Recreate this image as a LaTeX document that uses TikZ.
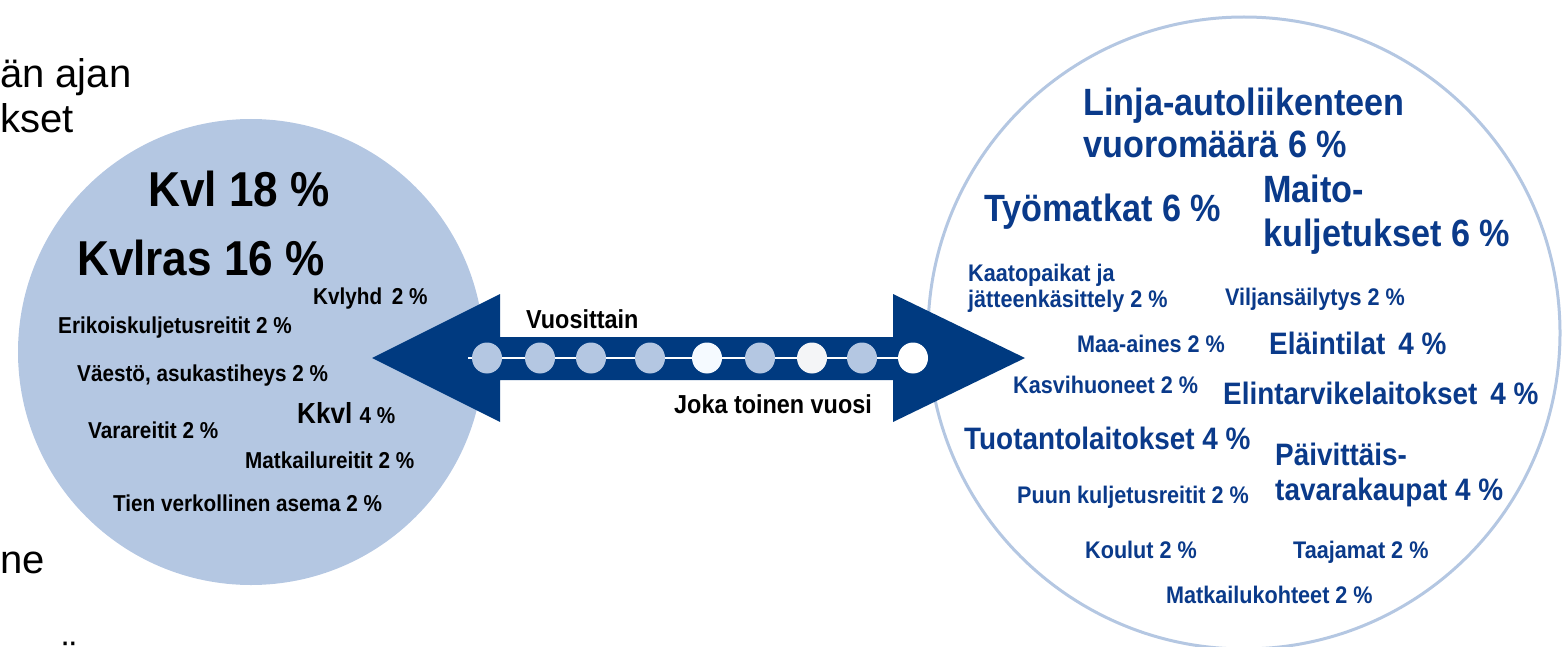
\documentclass[tikz,border=0pt]{standalone}
\usepackage{fontspec}
\setmainfont{Liberation Sans}
\newfontfamily\labfont[FakeStretch=0.9]{Liberation Sans}
\definecolor{lightblue}{HTML}{B4C7E2}
\definecolor{dkblue}{HTML}{003A80}
\definecolor{txtblue}{HTML}{0A3A8A}
\definecolor{dotwhiteA}{HTML}{F5FAFF}
\definecolor{dotwhiteB}{HTML}{F4F5F7}
\usetikzlibrary{shapes.geometric}
\tikzset{
  lab/.style={anchor=base west, inner sep=0pt, font=\labfont\bfseries},
  blk/.style={lab, text=black},
  blu/.style={lab, text=txtblue},
  sA/.style={font=\labfont\bfseries\fontsize{49}{55}\selectfont},
  sB/.style={font=\labfont\bfseries\fontsize{38}{42}\selectfont},
  sC/.style={font=\labfont\bfseries\fontsize{31}{35}\selectfont},
  sD/.style={font=\labfont\bfseries\fontsize{24}{28}\selectfont},
  sE/.style={font=\labfont\bfseries\fontsize{23}{27}\selectfont},
  sF/.style={font=\labfont\bfseries\fontsize{26}{30}\selectfont},
  slide/.style={anchor=base west, inner sep=0pt, text=black, font=\fontsize{40}{45}\selectfont},
  dot/.style={ellipse, minimum width=30pt, minimum height=31pt, inner sep=0pt, fill=#1},
}
\begin{document}
\begin{tikzpicture}[x=1pt,y=-1pt]
\useasboundingbox (0,0) rectangle (1563,647);
% slide text fragments
\node[slide] (s1) at (0,88) {än ajan};
\node[slide] (s2) at (0,133) {kset};
\node[slide] (s3) at (0,573) {ne};
\node[slide] (s4) at (58,669) {ä};
% circles
\fill[lightblue] (251,352) circle[radius=233];
\draw[lightblue, line width=3pt, fill=white] (1244,333) circle[radius=316];
% double arrow
\fill[dkblue] (372,358) -- (500,294) -- (500,337) -- (893,337) -- (893,294)
  -- (1025,358) -- (893,422) -- (893,380) -- (500,380) -- (500,422) -- cycle;
% dots
\coordinate (lstart) at (468,358);
\node[dot=lightblue] (d1) at (487,358) {};
\node[dot=lightblue] (d2) at (540,358) {};
\node[dot=lightblue] (d3) at (591,358) {};
\node[dot=lightblue] (d4) at (650,358) {};
\node[dot=dotwhiteA] (d5) at (707,358) {};
\node[dot=lightblue] (d6) at (760,358) {};
\node[dot=dotwhiteB] (d7) at (812,358) {};
\node[dot=lightblue] (d8) at (862,358) {};
\node[dot=white] (d9) at (913,358) {};
\draw[white, line width=1.2pt] (lstart) -- (d1.west) (d1.east) -- (d2.west) (d2.east) -- (d3.west)
  (d3.east) -- (d4.west) (d4.east) -- (d5.west) (d5.east) -- (d6.west) (d6.east) -- (d7.west)
  (d7.east) -- (d8.west) (d8.east) -- (d9.west);
% arrow labels
\node[blk,sF] (vuos) at (526,328) {Vuosittain};
\node[blk,sF] (joka) at (674,413) {Joka toinen vuosi};
% left circle labels
\node[blk,sA] (kvl) at (148,207) {Kvl 18 \%};
\node[blk,sA] (kvlras) at (77,275) {Kvlras 16 \%};
\node[blk,sE] (kvlyhd) at (313,304) {Kvlyhd\, 2 \%};
\node[blk,sE] (erik) at (58,333) {Erikoiskuljetusreitit 2 \%};
\node[blk,sE] (vaesto) at (77,381) {Väestö, asukastiheys 2 \%};
\node[blk,font=\labfont\bfseries\fontsize{29}{33}\selectfont] (kkvl) at (297,423) {Kkvl {\fontsize{23}{27}\selectfont 4 \%}};
\node[blk,sE] (vara) at (88,438) {Varareitit 2 \%};
\node[blk,sE] (matkr) at (245,468) {Matkailureitit 2 \%};
\node[blk,sE] (tien) at (113,511) {Tien verkollinen asema 2 \%};
% right circle labels
\node[blu,sB] (linja1) at (1083,116) {Linja-autoliikenteen};
\node[blu,sB] (linja2) at (1083,158) {vuoromäärä 6 \%};
\node[blu,sB] (tyo) at (984,222) {Työmatkat 6 \%};
\node[blu,sB] (maito1) at (1263,203) {Maito-};
\node[blu,sB] (maito2) at (1263,247) {kuljetukset 6 \%};
\node[blu,sD] (kaato1) at (968,281) {Kaatopaikat ja};
\node[blu,sD] (kaato2) at (968,307) {jätteenkäsittely 2 \%};
\node[blu,sD] (vilja) at (1225,305) {Viljansäilytys 2 \%};
\node[blu,sD] (maa) at (1077,352) {Maa-aines 2 \%};
\node[blu,sC] (elain) at (1269,354) {Eläintilat\, 4 \%};
\node[blu,sD] (kasvi) at (1013,393) {Kasvihuoneet 2 \%};
\node[blu,sC] (elint) at (1223,404) {Elintarvikelaitokset\, 4 \%};
\node[blu,sC] (tuot) at (964,449) {Tuotantolaitokset 4 \%};
\node[blu,sC] (paiv1) at (1275,465) {Päivittäis-};
\node[blu,sC] (paiv2) at (1275,500) {tavarakaupat 4 \%};
\node[blu,sD] (puun) at (1017,503) {Puun kuljetusreitit 2 \%};
\node[blu,sD] (koulut) at (1085,558) {Koulut 2 \%};
\node[blu,sD] (taaj) at (1293,558) {Taajamat 2 \%};
\node[blu,sD] (matkk) at (1166,603) {Matkailukohteet 2 \%};
\end{tikzpicture}
\end{document}
